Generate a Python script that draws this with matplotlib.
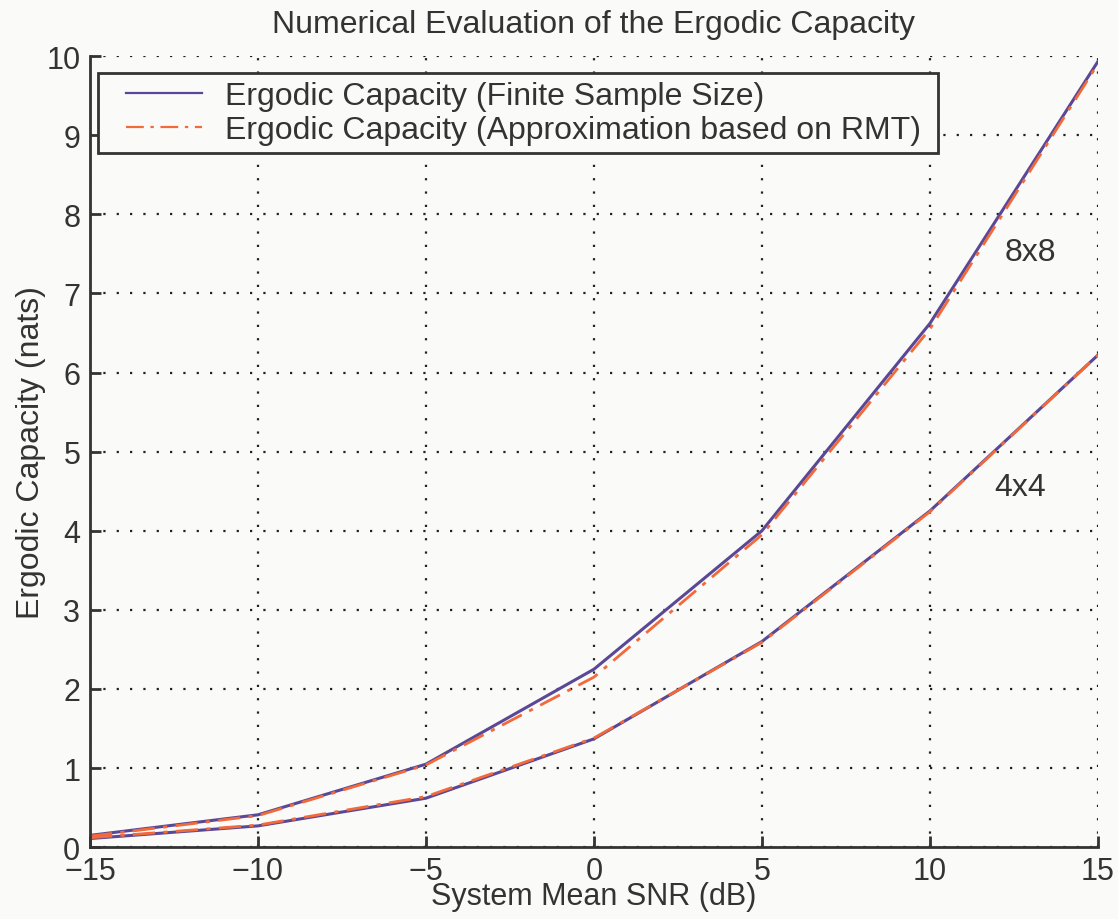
import matplotlib
matplotlib.use("Agg")
import matplotlib.pyplot as plt
from matplotlib.legend_handler import HandlerLine2D

# SNR points (dB)
snr_db = [-15, -10, -5, 0, 5, 10, 15]

# 8x8 system
cap_8x8_finite = [0.15, 0.41, 1.05, 2.25, 4.00, 6.62, 9.93]
cap_8x8_rmt = [0.14, 0.40, 1.04, 2.15, 3.95, 6.55, 9.90]

# 4x4 system
cap_4x4_finite = [0.11, 0.27, 0.62, 1.37, 2.60, 4.25, 6.22]
cap_4x4_rmt = [0.12, 0.28, 0.64, 1.38, 2.59, 4.24, 6.22]

xticks = [-15, -10, -5, 0, 5, 10, 15]
yticks = list(range(0, 11))

purple = "#5a4896"
orange = "#f2693a"
text_col = "#333333"
bg = "#fafaf8"

plt.rcParams["font.family"] = ["Liberation Sans", "DejaVu Sans"]
plt.rcParams["axes.unicode_minus"] = True

fig = plt.figure(figsize=(11.18, 9.2), dpi=100, facecolor=bg)
ax = fig.add_axes([0.0805, 0.078, 0.9015, 0.86], facecolor=bg)

dashdot = (0, (8, 3, 1.5, 3))
l1, = ax.plot(snr_db, cap_8x8_finite, color=purple, lw=2.2,
              label="Ergodic Capacity (Finite Sample Size)")
l2, = ax.plot(snr_db, cap_8x8_rmt, color=orange, lw=2.0, ls=dashdot,
              label="Ergodic Capacity (Approximation based on RMT)")
ax.plot(snr_db, cap_4x4_finite, color=purple, lw=2.2)
ax.plot(snr_db, cap_4x4_rmt, color=orange, lw=2.0, ls=dashdot)

ax.text(13.0, 7.52, "8x8", fontsize=23, color=text_col, ha="center", va="center")
ax.text(12.7, 4.55, "4x4", fontsize=23, color=text_col, ha="center", va="center")

ax.set_xlim(-15, 15)
ax.set_ylim(0, 10)
ax.set_xticks(xticks)
ax.set_yticks(yticks)
ax.tick_params(direction="in", length=8, width=2, labelsize=22,
               colors=text_col)
ax.tick_params(axis="x", pad=6)
ax.tick_params(axis="y", pad=7)
ax.grid(True, color="#222222", ls=(0, (1, 5)), lw=1.6)

for side in ["top", "right"]:
    ax.spines[side].set_visible(False)
for side in ["left", "bottom"]:
    ax.spines[side].set_linewidth(2)
    ax.spines[side].set_color(text_col)

ax.set_title("Numerical Evaluation of the Ergodic Capacity", fontsize=23,
             color=text_col, pad=17)
ax.set_xlabel("System Mean SNR (dB)", fontsize=22, color=text_col, labelpad=-3)
ax.set_ylabel("Ergodic Capacity (nats)", fontsize=23, color=text_col, labelpad=0)

handler = HandlerLine2D(xpad=0.62)
leg = ax.legend(loc="upper left", bbox_to_anchor=(0.008, 0.0, 0.833, 0.978),
                mode="expand", fontsize=23,
                fancybox=False, framealpha=1, facecolor=bg, edgecolor=text_col,
                borderpad=0.25, handlelength=3.0, labelspacing=0.12,
                handletextpad=0.72, borderaxespad=0,
                handler_map={l1: handler, l2: handler})
leg.get_frame().set_linewidth(2)
for t in leg.get_texts():
    t.set_color(text_col)
for h in leg.get_lines():
    h.set_linewidth(1.6)

fig.savefig("out.png", dpi=100, facecolor=bg)
